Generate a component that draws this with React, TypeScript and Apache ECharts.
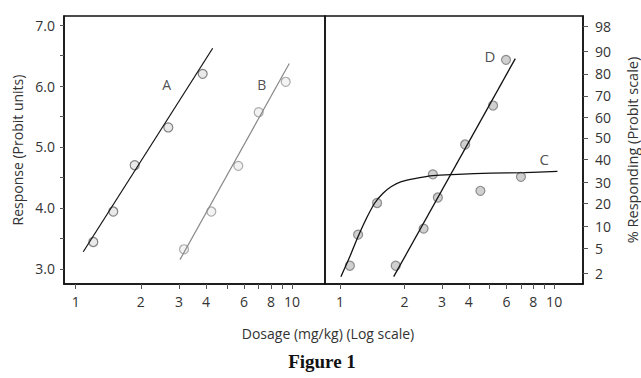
import React, { useEffect, useRef } from "react";
import * as echarts from "echarts";

// Left panel (Response in probit units)
const doseA = [1.206, 1.492, 1.874, 2.68, 3.865];
const respA = [3.44, 3.94, 4.7, 5.32, 6.2];
const fitDoseA = [1.084, 4.299];
const fitRespA = [3.28, 6.62];

const doseB = [3.168, 4.236, 5.646, 7.015, 9.352];
const respB = [3.32, 3.94, 4.69, 5.57, 6.07];
const fitDoseB = [3.035, 9.716];
const fitRespB = [3.15, 6.37];

// Right panel (% responding, probit scale)
const doseC = [1.113, 1.216, 1.491, 2.716, 4.527, 7.0];
const probC = [3.05, 3.56, 4.08, 4.55, 4.28, 4.51];
const curveDoseC = [1.011, 1.113, 1.216, 1.331, 1.455, 1.59, 1.74, 1.936, 2.233, 2.716, 3.549, 5.077, 7.254, 10.36];
const curveProbC = [2.87, 3.2, 3.53, 3.83, 4.08, 4.24, 4.35, 4.43, 4.48, 4.53, 4.55, 4.57, 4.58, 4.6];

const doseD = [1.822, 2.459, 2.866, 3.843, 5.187, 5.962];
const probD = [3.05, 3.66, 4.17, 5.04, 5.68, 6.43];
const fitDoseD = [1.783, 6.587];
const fitProbD = [2.87, 6.45];

// Series name labels
const labelNamesLeft = ["A", "B"];
const labelDoseLeft = [2.635, 7.244];
const labelRespLeft = [6.03, 6.03];
const labelNamesRight = ["D", "C"];
const labelDoseRight = [5.023, 8.98];
const labelProbRight = [6.49, 4.8];

// Axis ticks
const xTickValues = [1, 2, 3, 4, 5, 6, 7, 8, 9, 10];
const xLabelValues = [1, 2, 3, 4, 6, 8, 10];
const leftYTicks = [3, 3.5, 4, 4.5, 5, 5.5, 6, 6.5, 7];
const leftYLabels = [3, 4, 5, 6, 7];
const rightTickPercent = [2, 5, 10, 20, 30, 40, 50, 60, 70, 80, 90, 98];
const rightTickProbit = [2.93, 3.33, 3.7, 4.07, 4.42, 4.79, 5.15, 5.48, 5.84, 6.2, 6.57, 6.98];

const FONT = "Open Sans";

const zip = (a: number[], b: number[]) => a.map((v, i) => [v, b[i]]);

export default function App() {
  const ref = useRef<HTMLDivElement>(null);
  useEffect(() => {
    if (!ref.current) return;
    const chart = echarts.init(ref.current, null, { renderer: "svg" });
    const axisLabelBase = { color: "#333", fontFamily: FONT, fontSize: 14 };
    const xAxisCommon = (gridIndex: number, min: number, max: number) => ({
      type: "log" as const,
      gridIndex,
      logBase: 10,
      min,
      max,
      axisLine: { show: true, onZero: false, lineStyle: { color: "#111", width: 1.5 } },
      axisTick: {
        show: true,
        length: 5,
        customValues: xTickValues,
        lineStyle: { color: "#555", width: 1 },
      },
      axisLabel: {
        ...axisLabelBase,
        margin: 10,
        customValues: xLabelValues,
        formatter: (v: number) => String(Math.round(v)),
      },
      splitLine: { show: false },
      minorTick: { show: false },
    });
    chart.setOption({
      animation: false,
      backgroundColor: "#fff",
      title: [
        {
          text: "Dosage (mg/kg) (Log scale)",
          left: 323,
          top: 321,
          textAlign: "center",
          textStyle: { fontFamily: FONT, fontSize: 14, fontWeight: "normal", color: "#333" },
        },
        {
          text: "Figure 1",
          left: 317,
          top: 347,
          textAlign: "center",
          textStyle: { fontFamily: "Liberation Serif", fontSize: 19, fontWeight: "bold", color: "#111" },
        },
      ],
      grid: [
        { left: 64, right: 316, top: 16, height: 268, show: true, borderColor: "#111", borderWidth: 1.5 },
        { left: 325, right: 57, top: 16, height: 268, show: true, borderColor: "#111", borderWidth: 1.5 },
      ],
      xAxis: [xAxisCommon(0, 0.883, 14.21), xAxisCommon(1, 0.852, 13.64)],
      yAxis: [
        {
          type: "value",
          gridIndex: 0,
          min: 2.75,
          max: 7.15,
          name: "Response (Probit units)",
          nameLocation: "middle",
          nameRotate: 90,
          nameGap: 40,
          nameTextStyle: { fontFamily: FONT, fontSize: 14, color: "#333" },
          axisLine: { show: true, lineStyle: { color: "#111", width: 1.5 } },
          axisTick: { show: true, length: 4, customValues: leftYTicks, lineStyle: { color: "#555" } },
          axisLabel: {
            ...axisLabelBase,
            margin: 9,
            customValues: leftYLabels,
            formatter: (v: number) => v.toFixed(1),
          },
          splitLine: { show: false },
        },
        {
          type: "value",
          gridIndex: 1,
          position: "right",
          min: 2.75,
          max: 7.15,
          name: "% Responding (Probit scale)",
          nameLocation: "middle",
          nameRotate: 90,
          nameGap: 42,
          nameTextStyle: { fontFamily: FONT, fontSize: 14.5, color: "#333" },
          axisLine: { show: true, lineStyle: { color: "#111", width: 1.5 } },
          axisTick: { show: true, length: 5, customValues: rightTickProbit, lineStyle: { color: "#555" } },
          axisLabel: {
            ...axisLabelBase,
            margin: 12,
            customValues: rightTickProbit,
            formatter: (v: number) => {
              let best = 0;
              rightTickProbit.forEach((p, i) => {
                if (Math.abs(p - v) < Math.abs(rightTickProbit[best] - v)) best = i;
              });
              return String(rightTickPercent[best]);
            },
          },
          splitLine: { show: false },
        },
      ],
      series: [
        {
          type: "line",
          xAxisIndex: 0,
          yAxisIndex: 0,
          data: zip(fitDoseA, fitRespA),
          showSymbol: false,
          lineStyle: { color: "#111", width: 1.2 },
        },
        {
          type: "line",
          xAxisIndex: 0,
          yAxisIndex: 0,
          data: zip(fitDoseB, fitRespB),
          showSymbol: false,
          lineStyle: { color: "#888", width: 1.2 },
        },
        {
          type: "scatter",
          xAxisIndex: 0,
          yAxisIndex: 0,
          data: zip(doseA, respA),
          symbolSize: 9,
          itemStyle: { color: "#e4e4e4", borderColor: "#666", borderWidth: 1.2 },
        },
        {
          type: "scatter",
          xAxisIndex: 0,
          yAxisIndex: 0,
          data: zip(doseB, respB),
          symbolSize: 9,
          itemStyle: { color: "#f0f0f0", borderColor: "#999", borderWidth: 1.2 },
        },
        {
          type: "line",
          xAxisIndex: 1,
          yAxisIndex: 1,
          data: zip(curveDoseC, curveProbC),
          showSymbol: false,
          smooth: 0.3,
          lineStyle: { color: "#111", width: 1.3 },
        },
        {
          type: "line",
          xAxisIndex: 1,
          yAxisIndex: 1,
          data: zip(fitDoseD, fitProbD),
          showSymbol: false,
          lineStyle: { color: "#111", width: 1.3 },
        },
        {
          type: "scatter",
          xAxisIndex: 1,
          yAxisIndex: 1,
          data: zip(doseC, probC),
          symbolSize: 9,
          itemStyle: { color: "#c4c4c4", borderColor: "#777", borderWidth: 1.2 },
        },
        {
          type: "scatter",
          xAxisIndex: 1,
          yAxisIndex: 1,
          data: zip(doseD, probD),
          symbolSize: 9,
          itemStyle: { color: "#c4c4c4", borderColor: "#777", borderWidth: 1.2 },
        },
        {
          type: "scatter",
          xAxisIndex: 0,
          yAxisIndex: 0,
          symbolSize: 0,
          data: labelNamesLeft.map((n, i) => ({ value: [labelDoseLeft[i], labelRespLeft[i]], name: n })),
          label: {
            show: true,
            position: "inside",
            formatter: (p: any) => p.name,
            fontFamily: FONT,
            fontSize: 14,
            color: "#222",
          },
          silent: true,
        },
        {
          type: "scatter",
          xAxisIndex: 1,
          yAxisIndex: 1,
          symbolSize: 0,
          data: labelNamesRight.map((n, i) => ({ value: [labelDoseRight[i], labelProbRight[i]], name: n })),
          label: {
            show: true,
            position: "inside",
            formatter: (p: any) => p.name,
            fontFamily: FONT,
            fontSize: 15,
            color: "#222",
          },
          silent: true,
        },
      ],
    });
    return () => chart.dispose();
  }, []);
  return (
    <div
      ref={ref}
      style={{ position: "fixed", left: 0, top: 0, width: 641, height: 378 }}
    />
  );
}
